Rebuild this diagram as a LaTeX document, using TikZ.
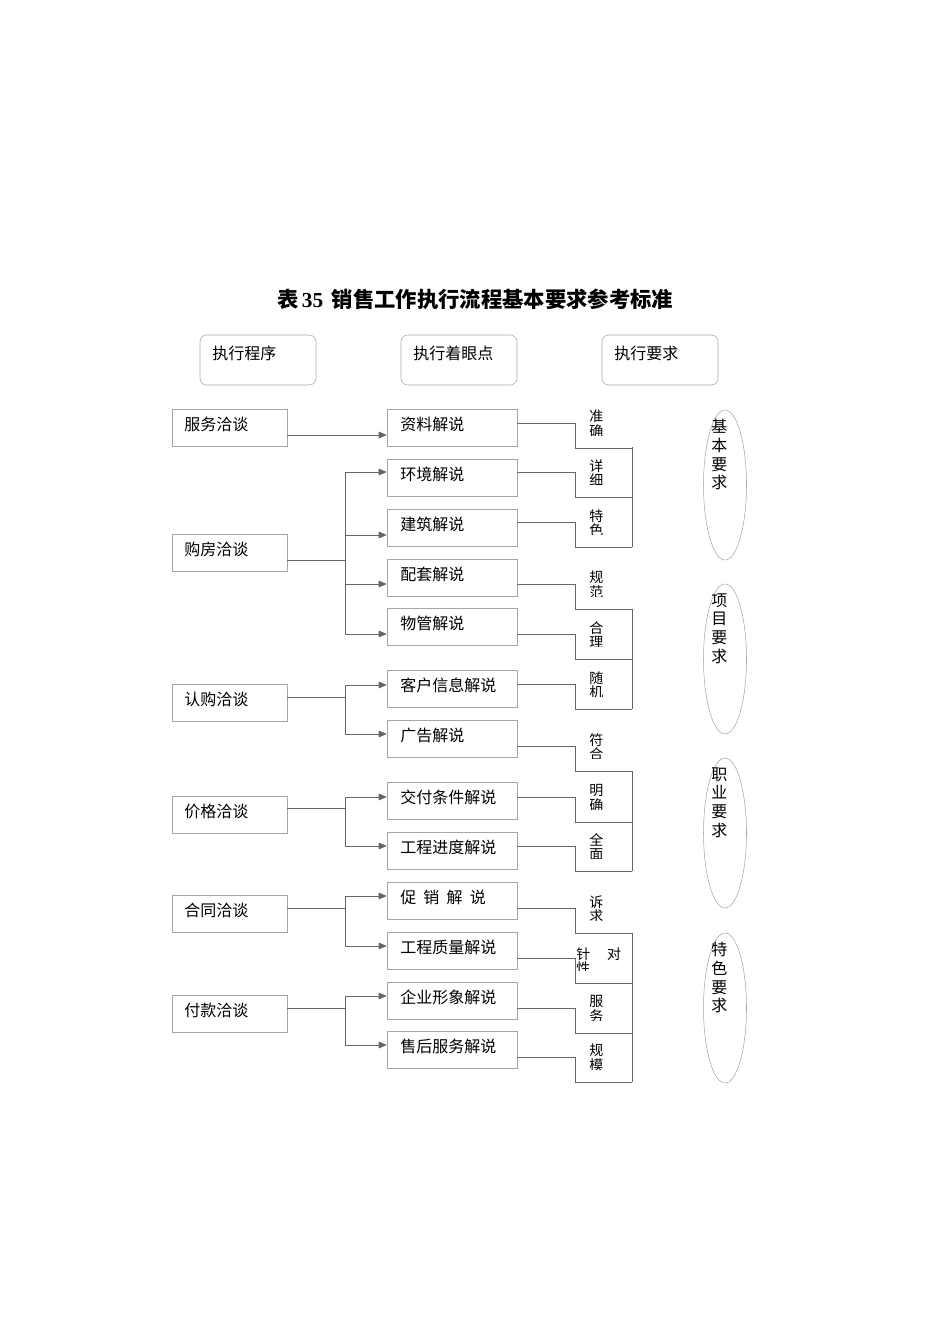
\documentclass[tikz,border=0pt]{standalone}
\usepackage{fontspec}
\setmainfont{Liberation Serif}
\newfontfamily\cjk{Noto Sans CJK SC}
\usetikzlibrary{arrows.meta}
\begin{document}
\begin{tikzpicture}[x=0.75pt,y=-0.75pt,
  every node/.style={font=\cjk\fontsize{12}{14}\selectfont},
  lbox/.style={draw=gray!70,minimum width=115*0.75pt,minimum height=37*0.75pt,inner sep=0pt},
  mbox/.style={draw=gray!70,minimum width=130*0.75pt,minimum height=37*0.75pt,inner sep=0pt},
  hbox/.style={draw=gray!70,rounded corners=5pt,minimum width=116*0.75pt,minimum height=50*0.75pt,inner sep=0pt},
  ell/.style={draw=gray!70,ellipse,minimum width=43*0.75pt,minimum height=150*0.75pt,inner sep=0pt},
  ln/.style={draw=gray!80!black,line width=0.5pt},
  arr/.style={ln,-{Triangle[length=6pt,width=5pt]}},
  lab/.style={anchor=north west,inner sep=0pt}]
\useasboundingbox (0,0) rectangle (950,1344);
\node[font=\cjk\bfseries\fontsize{16}{18}\selectfont] (title) at (475,299) {表\,{\rmfamily\bfseries 35}\,\ 销售工作执行流程基本要求参考标准};
% headers
\foreach \n/\x/\t in {h1/258/执行程序,h2/459/执行着眼点,h3/660/执行要求}{
  \node[hbox] (\n) at (\x,360) {};
  \node[lab] (\n t) at (\x-46,346) {\t};
}
% left boxes
\foreach \n/\y/\t in {L1/428/服务洽谈,L2/553/购房洽谈,L3/703/认购洽谈,L4/815/价格洽谈,L5/914/合同洽谈,L6/1014/付款洽谈}{
  \node[lbox] (\n) at (229.5,\y) {};
  \node[lab] (\n t) at (184,\y-11) {\t};
}
% middle boxes
\foreach \n/\y/\t in {M1/428/资料解说,M2/478/环境解说,M3/528/建筑解说,M4/578/配套解说,M5/627/物管解说,M6/689/客户信息解说,M7/739/广告解说,M8/801/交付条件解说,M9/851/工程进度解说,M10/901/促\ \ 销\ \ 解\ \ 说,M11/951/工程质量解说,M12/1001/企业形象解说,M13/1050/售后服务解说}{
  \node[mbox] (\n) at (452,\y) {};
  \node[lab] (\n t) at (400,\y-11) {\t};
}
% left connectors
\draw[arr] (L1.east|-0,435) -- (M1.west|-0,435);
\draw[ln] (L2.east|-0,560) -- (345,560);
\draw[ln] (345,472) -- (345,634);
\foreach \m/\y in {M2/472,M3/535,M4/584,M5/634}{\draw[arr] (345,\y) -- (\m.west|-0,\y);}
\foreach \l/\ly/\a/\ay/\b/\by in {L3/697/M6/685/M7/734,L4/808/M8/797/M9/846,L5/908/M10/896/M11/946,L6/1008/M12/996/M13/1045}{
  \draw[ln] (\l.east|-0,\ly) -- (345,\ly);
  \draw[ln] (345,\ay) -- (345,\by);
  \draw[arr] (345,\ay) -- (\a.west|-0,\ay);
  \draw[arr] (345,\by) -- (\b.west|-0,\by);
}
% right requirement boxes
\foreach \m/\y/\a/\b in {M1/423/准/确,M2/472/详/细,M3/522/特/色,M4/584/规/范,M5/634/合/理,M6/684/随/机,M7/746/符/合,M8/797/明/确,M9/846/全/面,M10/908/诉/求,M12/1008/服/务,M13/1057/规/模}{
  \draw[ln] (\m.east|-0,\y) -- (575,\y) -- (575,\y+25) -- (632,\y+25);
  \begin{scope}
    \clip (575,\y-20) rectangle (632,\y+12);
    \node[lab,font=\cjk\fontsize{10.5}{11}\selectfont,align=left] (r\m) at (589,\y-13) {\a\\\b};
  \end{scope}
}
\draw[ln] (M11.east|-0,958) -- (575,958) -- (575,983) -- (632,983);
\begin{scope}
  \clip (575,938) rectangle (632,970);
  \node[lab,font=\cjk\fontsize{10.5}{11}\selectfont,align=left] (rM11) at (576,947) {针\hspace{1.2em}对\\性};
\end{scope}
\draw[ln] (632,447) -- (632,547);
\draw[ln] (632,609) -- (632,709);
\draw[ln] (632,771) -- (632,871);
\draw[ln] (632,933) -- (632,1082);
% ellipses
\foreach \n/\y/\t in {E1/485/基\\本\\要\\求,E2/659/项\\目\\要\\求,E3/833/职\\业\\要\\求,E4/1008/特\\色\\要\\求}{
  \draw[gray!70] (725,\y) ellipse (21.5 and 75);
  \node[lab,align=left,font=\cjk\fontsize{12}{14}\selectfont] (\n) at (711,\y-66) {\t};
}
\end{tikzpicture}
\end{document}
